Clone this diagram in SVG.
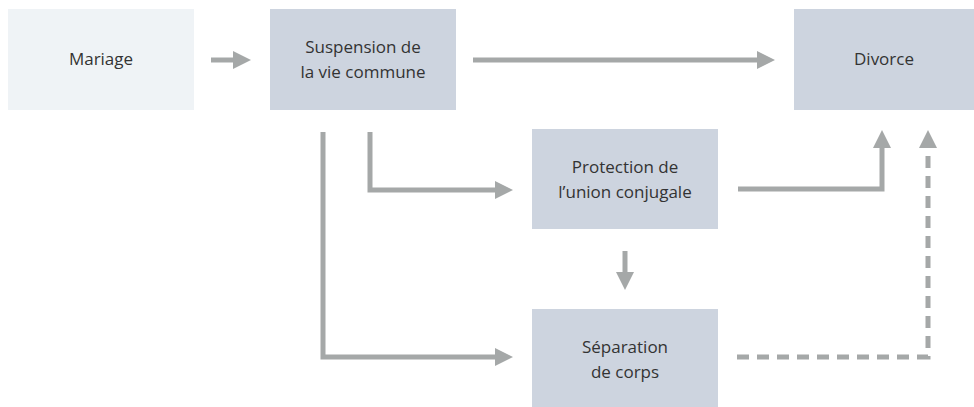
<svg xmlns="http://www.w3.org/2000/svg" width="974" height="407" viewBox="0 0 974 407">
<style>
.box{fill:#cdd4df}
.box-light{fill:#eff3f6}
.t{font-family:"Open Sans","Liberation Sans",sans-serif;font-size:17px;fill:#333333;text-anchor:middle}
.c{fill:none;stroke:#a5a8a8;stroke-width:5;stroke-linejoin:miter}
.d{stroke-dasharray:12 8}
</style>
<defs>
<marker id="ah" markerUnits="userSpaceOnUse" markerWidth="18" markerHeight="18" refX="0" refY="9" orient="auto">
<path d="M0,0 L18,9 L0,18 Z" fill="#a5a8a8"/>
</marker>
</defs>
<g id="mariage">
<rect class="box-light" x="8" y="9" width="186" height="101"/>
<text class="t" x="101" y="65">Mariage</text>
</g>
<g id="suspension">
<rect class="box" x="270" y="9" width="186" height="101"/>
<text class="t" x="363" y="53">Suspension de</text>
<text class="t" x="363" y="78">la vie commune</text>
</g>
<g id="divorce">
<rect class="box" x="794" y="9" width="180" height="101"/>
<text class="t" x="884" y="65">Divorce</text>
</g>
<g id="protection">
<rect class="box" x="532" y="129" width="186" height="100"/>
<text class="t" x="625" y="173">Protection de</text>
<text class="t" x="625" y="198">l’union conjugale</text>
</g>
<g id="separation">
<rect class="box" x="532" y="309" width="186" height="100"/>
<text class="t" x="625" y="353">Séparation</text>
<text class="t" x="625" y="378">de corps</text>
</g>
<g id="connectors">
<path class="c" d="M211,60 H233" marker-end="url(#ah)"/>
<path class="c" d="M473,60 H757" marker-end="url(#ah)"/>
<path class="c" d="M323,132 V357 H495" marker-end="url(#ah)"/>
<path class="c" d="M370,132 V190 H495" marker-end="url(#ah)"/>
<path class="c" d="M738,189 H882 V148" marker-end="url(#ah)"/>
<path class="c" d="M625,251 V272" marker-end="url(#ah)"/>
<path class="c d" d="M737,357 H928 V148" marker-end="url(#ah)"/>
</g>
</svg>
